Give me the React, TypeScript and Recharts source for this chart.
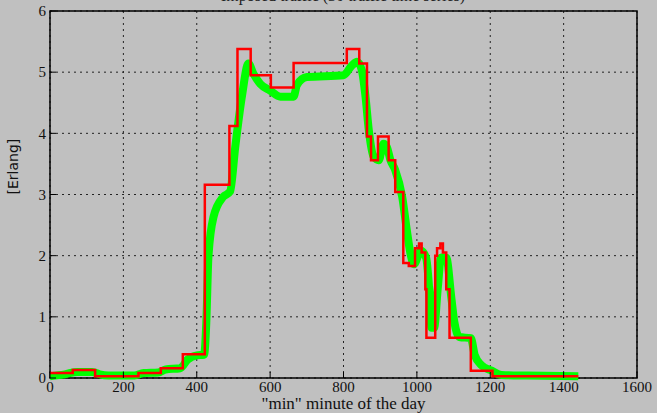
import { LineChart, Line, XAxis, YAxis, CartesianGrid, ReferenceArea } from 'recharts';

// red: the imposed traffic as a step function (minute, erlang)
const stepMinutes = [0, 62, 123, 241, 302, 362, 422, 489, 511, 547, 602, 664, 809, 843, 864, 875, 894, 923, 941, 963, 978, 995, 1006, 1013, 1023, 1026, 1050, 1055, 1064, 1071, 1080, 1089, 1147, 1206, 1440];
const stepValues = [0.08, 0.13, 0.03, 0.08, 0.16, 0.39, 3.16, 4.12, 5.38, 4.95, 4.75, 5.15, 5.38, 5.14, 3.95, 3.56, 3.95, 3.56, 3.04, 1.88, 1.83, 2.12, 2.2, 2.05, 1.45, 0.66, 2.0, 2.12, 2.2, 2.05, 1.45, 0.66, 0.12, 0.03, 0.03];

// green: the carried (smoothed) traffic
const smoothMinutes = [0, 40, 75, 115, 135, 160, 230, 255, 295, 315, 355, 375, 400, 420, 426, 432, 446, 472, 491, 505, 523, 541, 554, 573, 600, 628, 664, 673, 700, 800, 823, 837, 850, 860, 869, 882, 896, 909, 918, 928, 941, 960, 973, 982, 992, 1011, 1025, 1034, 1040, 1047, 1057, 1066, 1080, 1094, 1102, 1116, 1147, 1158, 1176, 1204, 1231, 1300, 1440];
const smoothValues = [0.03, 0.06, 0.1, 0.1, 0.06, 0.04, 0.04, 0.08, 0.09, 0.14, 0.16, 0.3, 0.37, 0.38, 0.9, 2.0, 2.64, 2.96, 3.05, 3.78, 4.6, 5.14, 4.98, 4.81, 4.7, 4.6, 4.6, 4.79, 4.92, 4.95, 5.11, 5.17, 5.03, 4.6, 4.05, 3.62, 3.56, 3.83, 3.78, 3.56, 3.4, 2.96, 2.4, 2.05, 1.86, 2.08, 1.97, 1.42, 0.82, 0.82, 1.47, 1.97, 1.97, 1.31, 0.92, 0.67, 0.65, 0.37, 0.21, 0.12, 0.05, 0.04, 0.03];

const xTicks = [0, 200, 400, 600, 800, 1000, 1200, 1400, 1600];
const yTicks = [0, 1, 2, 3, 4, 5, 6];

const stepData = stepMinutes.map((m, i) => ({ m, v: stepValues[i] }));
const smoothData = smoothMinutes.map((m, i) => ({ m, v: smoothValues[i] }));

const serif = '"Liberation Serif", "DejaVu Serif", serif';

export default function App() {
  return (
    <div style={{ position: 'absolute', left: 0, top: 0, width: 657, height: 413, background: '#c0c0c0' }}>
      <LineChart width={657} height={413} margin={{ top: 11, right: 20, left: 10, bottom: 0 }}>
        <text x={343} y={1} textAnchor="middle" fontFamily={serif} fontSize={16} fill="#222">
          Imposed traffic (30 traffic time series)
        </text>
        <CartesianGrid stroke="#222" strokeDasharray="2 4" strokeWidth={1} />
        <XAxis
          dataKey="m"
          type="number"
          domain={[0, 1600]}
          ticks={xTicks}
          allowDataOverflow
          axisLine={false}
          tickSize={-6}
          tickMargin={9}
          tickLine={{ stroke: '#000' }}
          tick={{ fill: '#111', fontFamily: serif, fontSize: 15 }}
          height={35}
          label={{ value: '"min" minute of the day', position: 'insideBottom', offset: 4, fill: '#111', fontFamily: serif, fontSize: 17 }}
        />
        <YAxis
          type="number"
          domain={[0, 6]}
          ticks={yTicks}
          axisLine={false}
          tickSize={-6}
          tickMargin={10}
          tickLine={{ stroke: '#000' }}
          tick={{ fill: '#111', fontFamily: serif, fontSize: 15 }}
          width={40}
          label={{ value: '[Erlang]', angle: -90, position: 'insideLeft', offset: 3, fill: '#111', fontFamily: '"DejaVu Sans", sans-serif', fontSize: 14 }}
        />
        <YAxis
          yAxisId="r"
          orientation="right"
          type="number"
          domain={[0, 6]}
          ticks={yTicks}
          axisLine={false}
          tickSize={-6}
          tickLine={{ stroke: '#000' }}
          tickFormatter={() => ''}
          width={0}
        />
        <ReferenceArea x1={0} x2={1600} y1={0} y2={6} fill="none" stroke="#000" strokeWidth={1.5} ifOverflow="visible" />
        <Line
          data={smoothData}
          dataKey="v"
          type="monotone"
          stroke="#00ff00"
          strokeWidth={8}
          dot={false}
          isAnimationActive={false}
        />
        <Line
          data={stepData}
          dataKey="v"
          type="stepAfter"
          stroke="#ff0000"
          strokeWidth={2.5}
          dot={false}
          isAnimationActive={false}
        />
      </LineChart>
    </div>
  );
}
